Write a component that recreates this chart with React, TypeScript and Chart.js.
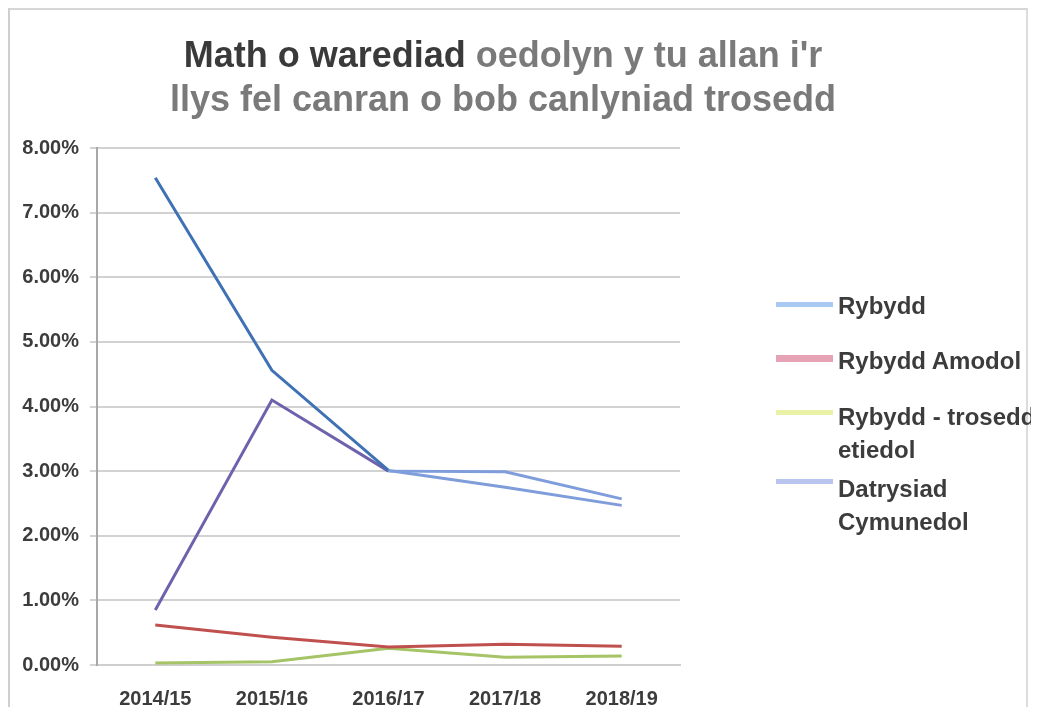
import React, { useEffect, useRef } from "react";
import { Chart, registerables } from "chart.js";

Chart.register(...registerables);

const categories = ["2014/15", "2015/16", "2016/17", "2017/18", "2018/19"];
const rybydd = [7.54, 4.56, 3.01, 2.75, 2.47];
const rybyddAmodol = [0.62, 0.43, 0.28, 0.32, 0.29];
const rybyddTrosedd = [0.03, 0.05, 0.26, 0.12, 0.14];
const datrysiad = [0.85, 4.1, 3.0, 2.99, 2.57];

const seriesLabels = ["Rybydd", "Rybydd Amodol", "Rybydd - trosedd etiedol", "Datrysiad Cymunedol"];
const legendLines = [["Rybydd"], ["Rybydd Amodol"], ["Rybydd - trosedd", "etiedol"], ["Datrysiad", "Cymunedol"]];
const titleDark = "Math o warediad";
const titleLight1 = " oedolyn y tu allan i'r";
const titleLine2 = "llys fel canran o bob canlyniad trosedd";

const lineColors = ["#3f72b5", "#c0504d", "#a5c465", "#6f62ad"];
const legendColors = ["#a9c8f2", "#e6a3b6", "#e9f2a6", "#b9c5ef"];
const loopColor = "#7f9ddb";

const FONT = "'Liberation Sans', Arial, sans-serif";

export default function App() {
  const canvasRef = useRef<HTMLCanvasElement | null>(null);

  useEffect(() => {
    const ctx = canvasRef.current!.getContext("2d")!;
    const seriesData = [rybydd, rybyddAmodol, rybyddTrosedd, datrysiad];
    const chart = new Chart(ctx, {
      type: "line",
      data: {
        labels: categories,
        datasets: seriesData.map((d, i) => ({
          label: seriesLabels[i],
          data: d,
          borderColor: lineColors[i],
          borderWidth: 3,
          pointRadius: 0,
          tension: 0,
          fill: false,
          segment:
            i === 0 || i === 3
              ? { borderColor: (c: any) => (c.p0DataIndex >= 2 ? loopColor : undefined) }
              : undefined,
        })),
      },
      options: {
        responsive: false,
        animation: false,
        layout: { padding: { left: 0, right: 351, top: 140, bottom: 2 } },
        plugins: {
          legend: { display: false },
          title: { display: false },
          tooltip: { enabled: false },
        },
        scales: {
          x: {
            type: "category",
            offset: true,
            grid: { display: false },
            border: { display: true, color: "#cfcfcf", width: 2 },
            ticks: {
              color: "#3c3c3c",
              font: { family: FONT, size: 20, weight: "bold" },
              padding: 14,
              maxRotation: 0,
            },
            afterFit: (s: any) => {
              s.height = 40;
            },
          },
          y: {
            min: 0,
            max: 8,
            ticks: {
              stepSize: 1,
              color: "#3c3c3c",
              font: { family: FONT, size: 20, weight: "bold" },
              padding: 11,
              callback: (v: any) => Number(v).toFixed(2) + "%",
            },
            grid: { color: "#d2d2d2", lineWidth: 2, tickLength: 7 },
            border: { display: true, color: "#a8a8a8", width: 2 },
            afterFit: (s: any) => {
              s.width = 89;
            },
          },
        },
      },
    });
    return () => chart.destroy();
  }, []);

  const legendTops = [305, 360, 416, 488];
  const swatchYs = [305, 358, 413, 482];

  return (
    <div style={{ position: "relative", width: 1023, height: 699, fontFamily: FONT }}>
      <canvas ref={canvasRef} width={1023} height={699} style={{ position: "absolute", left: 0, top: 0 }} />
      <div
        style={{
          position: "absolute",
          left: 0,
          top: 0,
          width: 1020,
          height: 699,
          boxSizing: "border-box",
          borderLeft: "2px solid #cfcfcf",
          borderTop: "2px solid #d6d6d6",
          borderRight: "2px solid #dcdcdc",
          pointerEvents: "none",
        }}
      />
      <div
        style={{
          position: "absolute",
          left: 0,
          top: 25,
          width: 990,
          textAlign: "center",
          fontSize: 36,
          lineHeight: "44px",
          fontWeight: "bold",
          color: "#7a7a7a",
          whiteSpace: "nowrap",
        }}
      >
        <div>
          <span style={{ color: "#3a3a3a" }}>{titleDark}</span>
          <span>{titleLight1}</span>
        </div>
        <div>{titleLine2}</div>
      </div>
      {legendLines.map((lines, i) => (
        <React.Fragment key={i}>
          <div
            style={{
              position: "absolute",
              left: 768,
              top: swatchYs[i] - 8 - 3,
              width: 57,
              height: i === 1 ? 7 : 5,
              background: legendColors[i],
            }}
          />
          <div
            style={{
              position: "absolute",
              left: 830,
              top: legendTops[i] - 8 - 16,
              fontSize: 24,
              lineHeight: "33px",
              fontWeight: "bold",
              color: "#3c3c3c",
              whiteSpace: "nowrap",
            }}
          >
            {lines.map((t, j) => (
              <div key={j}>{t}</div>
            ))}
          </div>
        </React.Fragment>
      ))}
    </div>
  );
}
